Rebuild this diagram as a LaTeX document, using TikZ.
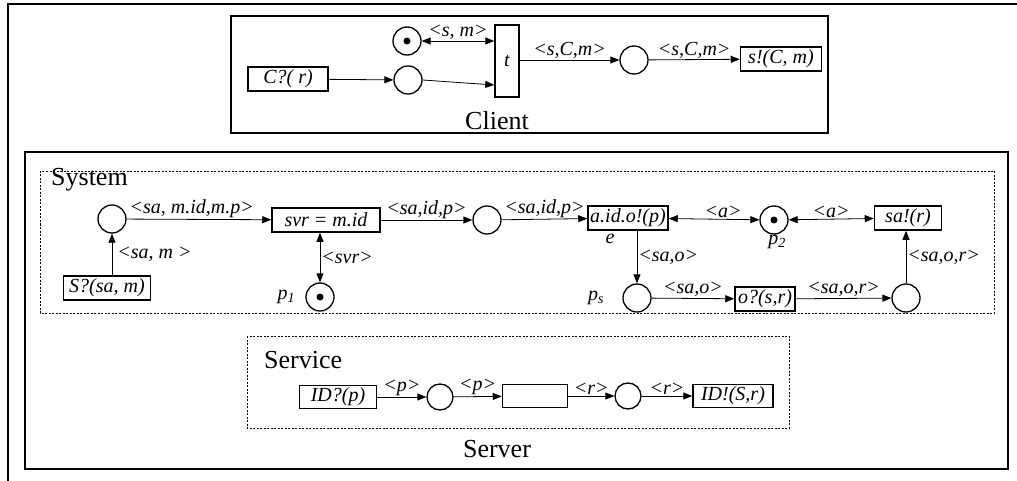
\documentclass[tikz,border=0pt]{standalone}
\usepackage{fontspec}
\setmainfont{Liberation Serif}
\usetikzlibrary{arrows.meta,calc}
\newcommand\labf{\fontsize{20pt}{22pt}\selectfont\itshape}
\newcommand\bigf{\fontsize{26pt}{28pt}\selectfont}
\begin{document}
\begin{tikzpicture}[x=1pt,y=-1pt,
 frame/.style={line width=1.6pt},
 dframe/.style={line width=0.8pt, dash pattern=on 2pt off 1.5pt},
 place/.style={circle,draw,line width=1.3pt,minimum size=28pt,inner sep=0pt},
 tokenplace/.style={place,path picture={\fill (path picture bounding box.center) circle (3.5pt);}},
 trans/.style={draw,line width=1.5pt,inner sep=1pt,minimum height=24pt,font=\labf},
 arr/.style={line width=0.8pt,-{Triangle[length=9pt,width=7pt]}},
 darr/.style={line width=0.8pt,{Triangle[length=9pt,width=7pt]}-{Triangle[length=9pt,width=7pt]}},
 lab/.style={font=\labf,inner sep=1pt},
 title/.style={font=\bigf,inner sep=0pt}]

\useasboundingbox (0,0) rectangle (1017,481);
\draw[frame] (8,481) -- (8,4) -- (1017,4);
\draw[frame] (231,16) rectangle (828,133);
\draw[frame] (25,152) rectangle (1008,469);
\draw[dframe] (40,171) rectangle (994,313);
\draw[dframe] (247,336) rectangle (789,428);

\node[title] (client) at (497,121) {Client};
\node[title] (server) at (497,449) {Server};
\node[title,anchor=west] (system) at (51,180) {System};
\node[title,anchor=west] (service) at (264,360) {Service};

% Client
\node[trans,minimum width=80pt] (cq) at (288,79) {C?( r)};
\node[place] (c1) at (408,80) {};
\node[tokenplace] (tok) at (407,41) {};
\node[trans,minimum width=24pt,minimum height=72pt] (t) at (507,61) {t};
\node[place] (c2) at (634,60) {};
\node[trans,minimum width=81pt] (sb) at (781,59) {s!(C, m)};
\draw[arr] (cq) -- (c1);
\draw[arr] (c1.east) -- ([yshift=-24pt]t.west);
\draw[darr] (tok.east) -- node[lab,above]{<s, m>} (tok.east -| t.west);
\draw[arr] (t.east |- c2) -- node[lab,above]{<s,C,m>} (c2.west);
\draw[arr] (c2) -- node[lab,above]{<s,C,m>} (sb);

% System
\node[place] (p0) at (112,219) {};
\node[trans,minimum width=87pt] (sq) at (107,288) {S?(sa, m)};
\draw[arr] (sq.north -| p0) -- node[lab,right,xshift=4pt]{<sa, m >} (p0.south);
\node[trans,minimum width=108pt] (svr) at (326,220) {svr = m.id};
\draw[arr] (p0) -- node[lab,above,pos=0.45]{<sa, m.id,m.p>} (svr);
\node[tokenplace] (p1) at (320,297) {};
\node[lab,anchor=east] (p1l) at ([xshift=-9pt]p1.west) {p\textsubscript{1}};
\draw[darr] (svr.south -| p1) -- node[lab,right]{<svr>} (p1.north);
\node[place] (p3) at (487,220) {};
\draw[arr] (svr) -- node[lab,above]{<sa,id,p>} (p3);
\node[trans,minimum width=80pt] (aid) at (628,218) {a.id.o!(p)};
\draw[arr] (p3) -- node[lab,above]{<sa,id,p>} (aid);
\node[lab] (el) at (610,239) {e};
\node[tokenplace] (p2) at (774,220) {};
\node[lab] (p2l) at (777,242) {p\textsubscript{2}};
\draw[darr] (aid) -- node[lab,above,pos=0.6]{<a>} (p2);
\node[trans,minimum width=67pt] (sa) at (908,218) {sa!(r)};
\draw[darr] (p2) -- node[lab,above]{<a>} (sa);
\node[place] (ps) at (637,298) {};
\node[lab,anchor=east] (psl) at ([xshift=-17pt]ps.west) {p\textsubscript{s}};
\draw[arr] (aid.south -| ps) -- node[lab,right]{<sa,o>} (ps.north);
\node[trans,minimum width=60pt] (oq) at (765,299) {o?(s,r)};
\draw[arr] (ps) -- node[lab,above]{<sa,o>} (oq);
\node[place] (c5) at (906,298) {};
\draw[arr] (oq) -- node[lab,above]{<sa,o,r>} (c5);
\draw[arr] (c5) -- node[lab,right]{<sa,o,r>} (sa.south -| c5);

% Service
\node[trans,minimum width=77pt,minimum height=23pt] (idq) at (338,397) {ID?(p)};
\node[place,minimum size=26pt] (s1) at (440,397) {};
\node[trans,minimum width=65pt,minimum height=23pt] (emp) at (535,396) {};
\node[place,minimum size=26pt] (s2) at (628,396) {};
\node[trans,minimum width=80pt,minimum height=23pt] (idx) at (733,396) {ID!(S,r)};
\draw[arr] (idq) -- node[lab,above]{<p>} (s1);
\draw[arr] (s1) -- node[lab,above]{<p>} (emp);
\draw[arr] (emp) -- node[lab,above]{<r>} (s2);
\draw[arr] (s2) -- node[lab,above]{<r>} (idx);
\end{tikzpicture}
\end{document}
